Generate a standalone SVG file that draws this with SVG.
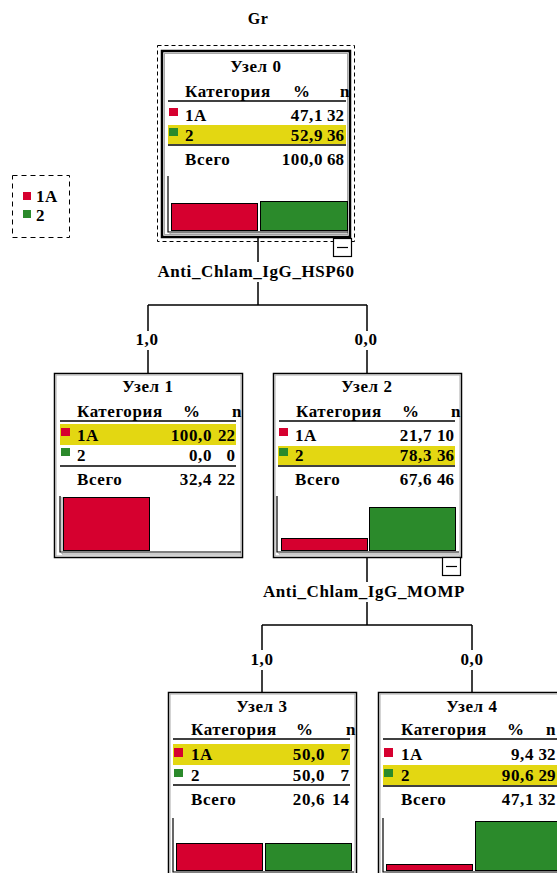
<svg xmlns="http://www.w3.org/2000/svg" width="557" height="873" viewBox="0 0 557 873">
<style>
text{font-family:"Liberation Serif","Times New Roman",serif;font-weight:bold;font-size:17px;fill:#000;letter-spacing:0.6px}
.m{text-anchor:middle}
.e{text-anchor:end}
.n{text-anchor:end;letter-spacing:0}
.ln{stroke:#000;stroke-width:1.5;fill:none}
.hl{fill:#e3d712}
.red{fill:#d6002f}
.grn{fill:#2b8a2b}
.bar{stroke:#000;stroke-width:1}
.frame{fill:#fff;stroke:#000;stroke-width:1.5}
.inner{fill:none;stroke:#a8a8a8;stroke-width:1}
.rule{stroke:#000;stroke-width:1.5}
.ax{stroke:#000;stroke-width:1.2;fill:none}
.ax2{stroke:#999;stroke-width:1;fill:none}
.mini{fill:#fff;stroke:#000;stroke-width:1.2}
</style>
<text class="m" x="258" y="24" style="font-size:16px">Gr</text>

<g id="legend">
<rect x="12.5" y="175.5" width="57" height="62" fill="none" stroke="#000" stroke-width="1" stroke-dasharray="5 4"/>
<rect class="red" x="23" y="192" width="8" height="8"/>
<text x="36" y="202">1A</text>
<rect class="grn" x="23" y="210" width="8" height="8"/>
<text x="36" y="221">2</text>
</g>

<g id="connectors">
<path class="ln" d="M258 237V262M258 282V305M148 305H367M148 305V331M148 350V373M367 305V331M367 350V373"/>
<path class="ln" d="M367 557V582M367 602V625M262 625H472M262 625V650M262 670V692M472 625V650M472 670V692"/>
<text class="m" x="256" y="277">Anti_Chlam_IgG_HSP60</text>
<text class="m" x="147" y="345">1,0</text>
<text class="m" x="366" y="345">0,0</text>
<text class="m" x="364" y="597">Anti_Chlam_IgG_MOMP</text>
<text class="m" x="262" y="665">1,0</text>
<text class="m" x="472" y="665">0,0</text>
</g>

<g id="node0">
<rect x="157.5" y="45.5" width="197" height="196" fill="none" stroke="#000" stroke-width="1" stroke-dasharray="4 3"/>
<rect x="162" y="51" width="188" height="186" fill="#fff" stroke="#000" stroke-width="2.5"/>
<rect class="inner" x="164.5" y="53.5" width="183" height="181"/>
<g transform="translate(162,53)">
<text class="m" x="94" y="19">Узел 0</text>
<text x="23" y="44">Категория</text>
<text x="131" y="44">%</text>
<text x="178" y="44">n</text>
<line class="rule" x1="6" y1="48" x2="184" y2="48"/>
<rect class="red" x="7" y="55" width="9" height="8"/>
<text x="23" y="68">1A</text>
<text class="e" x="161" y="68">47,1</text>
<text class="n" x="182" y="68">32</text>
<rect class="hl" x="6" y="72" width="178" height="19"/>
<rect class="grn" x="7" y="75" width="9" height="8"/>
<text x="23" y="88">2</text>
<text class="e" x="161" y="88">52,9</text>
<text class="n" x="182" y="88">36</text>
<line class="rule" x1="6" y1="92" x2="184" y2="92"/>
<text x="23" y="112">Всего</text>
<text class="e" x="161" y="112">100,0</text>
<text class="n" x="182" y="112">68</text>
<rect class="red bar" x="9.5" y="150.5" width="86" height="27"/>
<rect class="grn bar" x="98.5" y="148.5" width="87" height="29"/>
<path class="ax" d="M6 123V179H186"/>
<path class="ax2" d="M8 179V181H186"/>
<rect class="mini" x="171.5" y="185.5" width="18" height="18"/>
<line x1="175" y1="194.5" x2="186" y2="194.5" stroke="#000" stroke-width="1.2"/>
</g>
</g>

<g id="node1" transform="translate(54,373)">
<rect class="frame" x="0.5" y="0.5" width="188" height="184"/>
<rect class="inner" x="2" y="2" width="185" height="181"/>
<text class="m" x="94" y="19">Узел 1</text>
<text x="23" y="44">Категория</text>
<text x="129" y="44">%</text>
<text x="178" y="44">n</text>
<line class="rule" x1="6" y1="48" x2="182" y2="48"/>
<rect class="hl" x="6" y="51" width="176" height="21"/>
<rect class="red" x="7" y="55" width="9" height="8"/>
<text x="23" y="68">1A</text>
<text class="e" x="158" y="68">100,0</text>
<text class="n" x="181" y="68">22</text>
<rect class="grn" x="7" y="75" width="9" height="8"/>
<text x="23" y="88">2</text>
<text class="e" x="158" y="88">0,0</text>
<text class="n" x="181" y="88">0</text>
<line class="rule" x1="6" y1="93" x2="182" y2="93"/>
<text x="23" y="112">Всего</text>
<text class="e" x="158" y="112">32,4</text>
<text class="n" x="181" y="112">22</text>
<rect class="red bar" x="9.5" y="124.5" width="86" height="53"/>
<path class="ax" d="M6 123V179H187"/>
<path class="ax2" d="M8 124V181H187"/>
</g>

<g id="node2" transform="translate(273,373)">
<rect class="frame" x="0.5" y="0.5" width="188" height="184"/>
<rect class="inner" x="2" y="2" width="185" height="181"/>
<text class="m" x="94" y="19">Узел 2</text>
<text x="23" y="44">Категория</text>
<text x="129" y="44">%</text>
<text x="178" y="44">n</text>
<line class="rule" x1="6" y1="48" x2="182" y2="48"/>
<rect class="red" x="6" y="55" width="9" height="8"/>
<text x="22" y="68">1A</text>
<text class="e" x="159" y="68">21,7</text>
<text class="n" x="181" y="68">10</text>
<rect class="hl" x="5" y="73" width="177" height="19"/>
<rect class="grn" x="6" y="75" width="9" height="8"/>
<text x="22" y="88">2</text>
<text class="e" x="159" y="88">78,3</text>
<text class="n" x="181" y="88">36</text>
<line class="rule" x1="5" y1="93" x2="182" y2="93"/>
<text x="22" y="112">Всего</text>
<text class="e" x="159" y="112">67,6</text>
<text class="n" x="181" y="112">46</text>
<rect class="red bar" x="8.5" y="165.5" width="86" height="12"/>
<rect class="grn bar" x="96.5" y="134.5" width="86" height="43"/>
<path class="ax" d="M4 123V179H186"/>
<path class="ax2" d="M6 179V181H186"/>
<rect class="mini" x="169.5" y="184.5" width="18" height="18"/>
<line x1="173" y1="193.5" x2="184" y2="193.5" stroke="#000" stroke-width="1.2"/>
</g>

<g id="node3" transform="translate(168,692)">
<rect class="frame" x="0.5" y="0.5" width="188" height="184"/>
<rect class="inner" x="2" y="2" width="185" height="181"/>
<text class="m" x="94" y="20">Узел 3</text>
<text x="23" y="43">Категория</text>
<text x="128" y="43">%</text>
<text x="178" y="43">n</text>
<line class="rule" x1="5" y1="47" x2="182" y2="47"/>
<rect class="hl" x="5" y="52" width="177" height="21"/>
<rect class="red" x="6" y="56" width="9" height="9"/>
<text x="23" y="68">1A</text>
<text class="e" x="157" y="68">50,0</text>
<text class="n" x="181" y="68">7</text>
<rect class="grn" x="6" y="77" width="9" height="8"/>
<text x="23" y="89">2</text>
<text class="e" x="157" y="89">50,0</text>
<text class="n" x="181" y="89">7</text>
<line class="rule" x1="5" y1="93" x2="182" y2="93"/>
<text x="23" y="113">Всего</text>
<text class="e" x="157" y="113">20,6</text>
<text class="n" x="181" y="113">14</text>
<rect class="red bar" x="8.5" y="151.5" width="86" height="27"/>
<rect class="grn bar" x="97.5" y="151.5" width="86" height="27"/>
<path class="ax" d="M5 126V180H186"/>
<path class="ax2" d="M7 180V182H186"/>
</g>

<g id="node4" transform="translate(378,692)">
<rect class="frame" x="0.5" y="0.5" width="188" height="184"/>
<rect class="inner" x="2" y="2" width="185" height="181"/>
<text class="m" x="94" y="20">Узел 4</text>
<text x="23" y="43">Категория</text>
<text x="129" y="43">%</text>
<text class="e" x="178" y="43">n</text>
<line class="rule" x1="5" y1="47" x2="182" y2="47"/>
<rect class="red" x="6" y="56" width="9" height="9"/>
<text x="23" y="68">1A</text>
<text class="e" x="156" y="68">9,4</text>
<text class="n" x="177.5" y="68">32</text>
<rect class="hl" x="5" y="73" width="177" height="20"/>
<rect class="grn" x="6" y="77" width="9" height="8"/>
<text x="23" y="89">2</text>
<text class="e" x="156" y="89">90,6</text>
<text class="n" x="177.5" y="89">29</text>
<line class="rule" x1="5" y1="94" x2="182" y2="94"/>
<text x="23" y="113">Всего</text>
<text class="e" x="156" y="113">47,1</text>
<text class="n" x="177.5" y="113">32</text>
<rect class="red bar" x="8.5" y="172.5" width="86" height="6"/>
<rect class="grn bar" x="97.5" y="129.5" width="86" height="49"/>
<path class="ax" d="M5 126V180H186"/>
<path class="ax2" d="M7 180V182H186"/>
</g>
</svg>
